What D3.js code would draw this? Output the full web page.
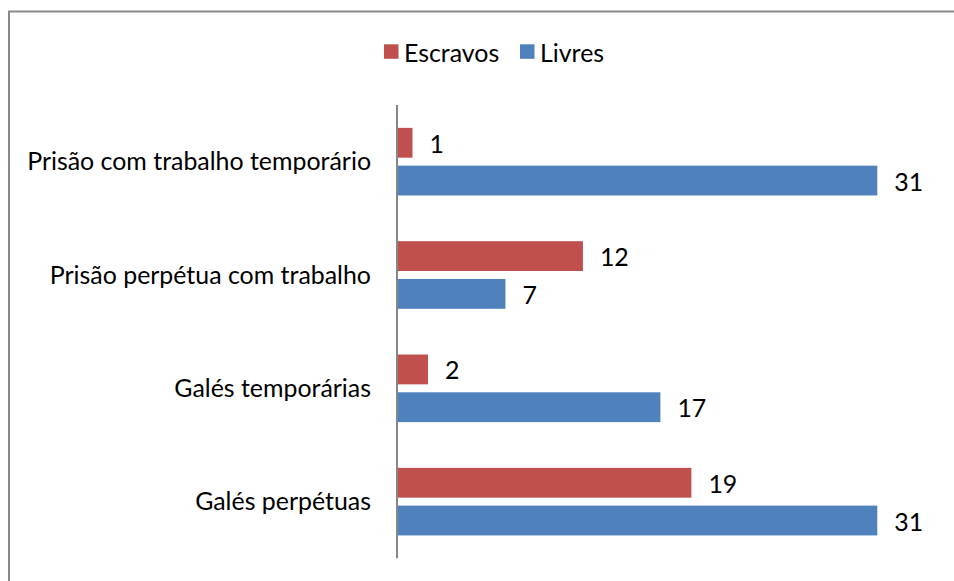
<!DOCTYPE html>
<html>
<head>
<meta charset="utf-8">
<script src="https://cdn.jsdelivr.net/npm/d3@7/dist/d3.min.js"></script>
<style>
  html, body { margin: 0; padding: 0; background: #ffffff; }
  svg { display: block; }
  text { font-family: Lato, "Open Sans", "Liberation Sans", sans-serif; fill: #000; }
</style>
</head>
<body>
<svg id="chart" width="954" height="581"></svg>
<script>
// ---- data ----
const categories = [
  "Prisão com trabalho temporário",
  "Prisão perpétua com trabalho",
  "Galés temporárias",
  "Galés perpétuas"
];
const seriesNames = ["Escravos", "Livres"];
const escravos = [1, 12, 2, 19];
const livres = [31, 7, 17, 31];
const seriesColors = ["#C0504D", "#4F81BD"];

// ---- layout ----
(function () {
const W = 954, H = 581;
const svg = d3.select("#chart");

// frame
svg.append("rect")
  .attr("x", 9).attr("y", 11.5)
  .attr("width", W + 20).attr("height", H + 20)
  .attr("fill", "#fff")
  .attr("stroke", "#8a8a8a").attr("stroke-width", 2);

const axisX = 397, plotTop = 105, plotBottom = 558.3;

const x = d3.scaleLinear().domain([0, 31]).range([axisX, 877.3]);
const y = d3.scaleBand().domain(categories).range([plotTop, plotBottom]).paddingInner(0).paddingOuter(0);
const ys = d3.scaleBand().domain(seriesNames).range([0, y.bandwidth()])
  .paddingInner(8 / 38).paddingOuter(23 / 38);

const values = [escravos, livres];

// fit font size to reference text width (Calibri-like metrics)
function fitSize(str, targetWidth) {
  const t = svg.append("text").attr("font-size", 100).text(str);
  const w = t.node().getComputedTextLength();
  t.remove();
  return 100 * targetWidth / w;
}
const fs = fitSize(categories[0], 344);

// bars
seriesNames.forEach((s, si) => {
  const g = svg.append("g");
  g.selectAll("rect").data(categories).join("rect")
    .attr("x", x(0))
    .attr("y", c => y(c) + ys(s))
    .attr("width", (c, i) => x(values[si][i]) - x(0))
    .attr("height", ys.bandwidth())
    .attr("fill", seriesColors[si]);
  g.selectAll("text").data(categories).join("text")
    .attr("x", (c, i) => x(values[si][i]) + 17)
    .attr("y", c => y(c) + ys(s) + ys.bandwidth() / 2)
    .attr("dominant-baseline", "central")
    .attr("font-size", fs)
    .text((c, i) => values[si][i]);
});

// category axis
const axis = d3.axisLeft(y).tickSize(0).tickPadding(26);
const ag = svg.append("g").attr("transform", `translate(${axisX},0)`).call(axis);
ag.select(".domain").attr("stroke", "#868686").attr("stroke-width", 2)
  .attr("d", `M0,${plotTop}V${plotBottom}`);
ag.selectAll(".tick text")
  .attr("font-size", fs)
  .attr("font-family", "Lato, 'Open Sans', sans-serif")
  .attr("fill", "#000")
  .attr("dy", "0.35em");

// legend
const lg = svg.append("g");
const legendX = [384, 520];
seriesNames.forEach((s, i) => {
  lg.append("rect")
    .attr("x", legendX[i]).attr("y", 44.3)
    .attr("width", 14.5).attr("height", 14.5)
    .attr("fill", seriesColors[i]);
  lg.append("text")
    .attr("x", legendX[i] + 20).attr("y", 51.7)
    .attr("dominant-baseline", "central")
    .attr("font-size", fs)
    .text(s);
});
})();
</script>
</body>
</html>
